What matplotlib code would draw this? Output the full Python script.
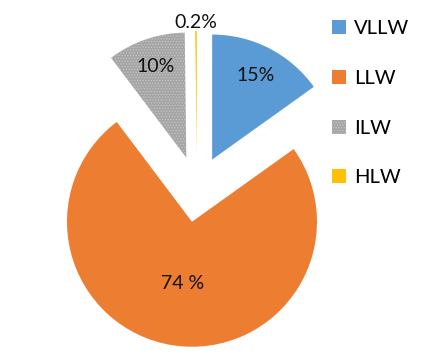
import numpy as np
import matplotlib
matplotlib.use("Agg")
import matplotlib.pyplot as plt

# waste categories and share of total volume (%)
categorias = ["VLLW", "LLW", "ILW", "HLW"]
valores = [15, 74, 10, 0.2]
etiquetas = ["15%", "74 %", "10%", "0.2%"]
colores = ["#5B9BD5", "#ED7D31", "#A5A5A5", "#FFC000"]

plt.rcParams["font.family"] = ["Lato", "DejaVu Sans"]
plt.rcParams["hatch.color"] = "#c4c4c4"
plt.rcParams["hatch.linewidth"] = 0.6

fig = plt.figure(figsize=(4.23, 3.6), dpi=100)
ax = fig.add_axes([0, 0, 1, 1])

wedges, _ = ax.pie(valores, colors=colores, startangle=90, counterclock=False,
                   explode=[0.265] * 4, radius=1,
                   wedgeprops={"linewidth": 0})
wedges[2].set_hatch("......")

# label distance from each exploded slice centre
dist = [0.76, 0.5, 0.77, 1.07]
for w, txt, d in zip(wedges, etiquetas, dist):
    ang = np.deg2rad((w.theta1 + w.theta2) / 2)
    cx, cy = w.center
    ax.text(cx + d * np.cos(ang), cy + d * np.sin(ang), txt,
            ha="center", va="center", fontsize=14, color="#111111")

# pixel layout: centre at (197,189), radius 125 px
ax.set_xlim(-197 / 125, (423 - 197) / 125)
ax.set_ylim((189 - 360) / 125, 189 / 125)
ax.set_aspect("auto")
ax.axis("off")

leg = ax.legend(wedges, categorias, loc="upper left",
                bbox_to_anchor=(314 / 423, 1 - 2 / 360),
                bbox_transform=fig.transFigure, frameon=False,
                fontsize=14.5, handlelength=0.7, handleheight=0.7,
                handletextpad=0.4, labelspacing=1.62)

fig.savefig("out.png", dpi=100)
